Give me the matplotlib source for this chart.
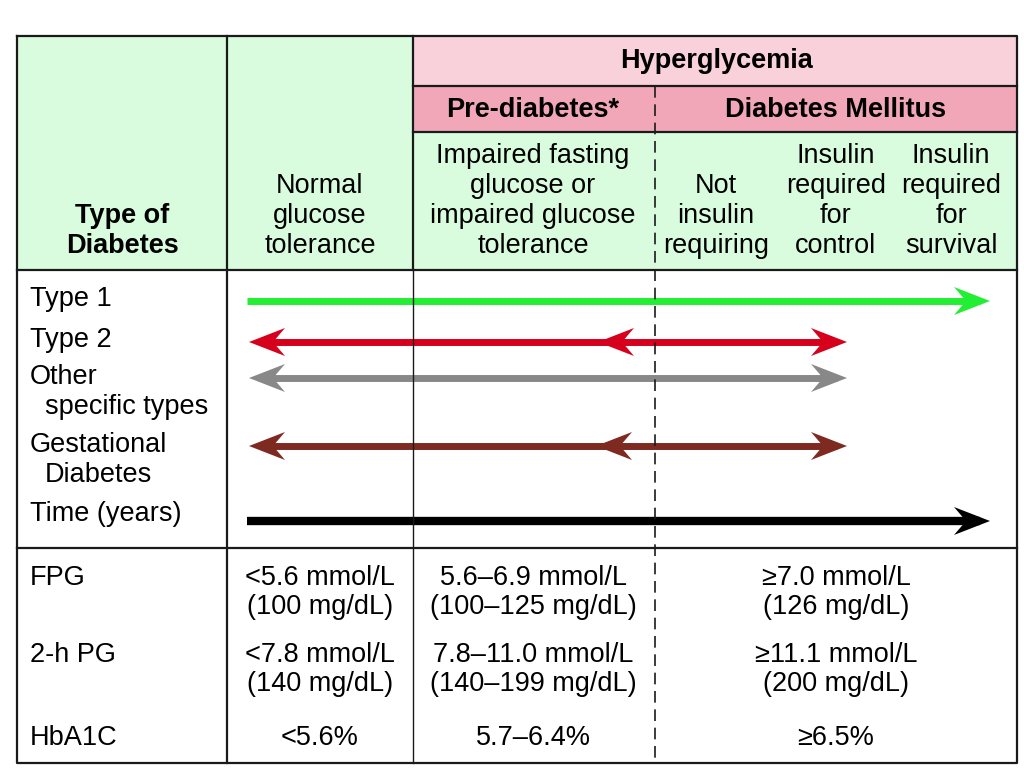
import numpy as np
import matplotlib.pyplot as plt
from matplotlib.patches import Rectangle, Polygon

plt.rcParams['font.family'] = ['Liberation Sans', 'DejaVu Sans']

# Table text
header_cols = [
    (122, ['Type of', 'Diabetes'], 'bold'),
    (320, ['Normal', 'glucose', 'tolerance'], 'normal'),
    (533, ['Impaired fasting', 'glucose or', 'impaired glucose', 'tolerance'], 'normal'),
    (716, ['Not', 'insulin', 'requiring'], 'normal'),
    (836, ['Insulin', 'required', 'for', 'control'], 'normal'),
    (951, ['Insulin', 'required', 'for', 'survival'], 'normal'),
]
band_labels = [(716, 61, 'Hyperglycemia'), (533, 110, 'Pre-diabetes*'), (836, 110, 'Diabetes Mellitus')]

type_labels = [(30, 299, 'Type 1'), (30, 340, 'Type 2'), (30, 377, 'Other'),
               (45, 407, 'specific types'), (30, 445, 'Gestational'),
               (45, 475, 'Diabetes'), (30, 514, 'Time (years)')]

# arrows: y, start, end, colour, heads (tips, direction)
arrow_y = [301, 342, 378, 446, 521]
arrow_x0 = [247, 249, 249, 249, 247]
arrow_x1 = [990, 847, 847, 847, 990]
arrow_col = ['#22ee33', '#d6001c', '#888888', '#7e2a20', '#000000']
arrow_lw = [5.0, 5.0, 5.0, 5.0, 6.0]
arrow_heads = [[(990, 1)], [(249, -1), (598, -1), (847, 1)], [(249, -1), (847, 1)],
               [(249, -1), (596, -1), (847, 1)], [(990, 1)]]

test_names = ['FPG', '2-h PG', 'HbA1C']
test_y = [578, 655, 738]
normal_vals = [['<5.6 mmol/L', '(100 mg/dL)'], ['<7.8 mmol/L', '(140 mg/dL)'], ['<5.6%']]
pre_vals = [['5.6\u20136.9 mmol/L', '(100\u2013125 mg/dL)'], ['7.8\u201311.0 mmol/L', '(140\u2013199 mg/dL)'], ['5.7\u20136.4%']]
dm_vals = [['\u22657.0 mmol/L', '(126 mg/dL)'], ['\u226511.1 mmol/L', '(200 mg/dL)'], ['\u22656.5%']]

GREEN = '#d8fcdd'
PINK1 = '#f8d1db'
PINK2 = '#f2a7b9'
FS = 19.5
LINE = 30


def barb_head(ax, tip, y, direction, color, length=36, half=14, notch=24):
    back = tip - direction * length
    mid = tip - direction * notch
    pts = [(tip, y), (back, y - half), (mid, y), (back, y + half)]
    ax.add_patch(Polygon(pts, closed=True, color=color, lw=0, zorder=3))


fig = plt.figure(figsize=(10.24, 7.84), dpi=100)
ax = fig.add_axes([0, 0, 1, 1])
ax.set_xlim(0, 1024)
ax.set_ylim(784, 0)
ax.axis('off')

L, R, T, B = 17, 1017, 36, 763
c1, c2, cd = 227, 413, 655

# fills
ax.add_patch(Rectangle((L, T), c2 - L, 270 - T, color=GREEN, lw=0))
ax.add_patch(Rectangle((c2, T), R - c2, 86 - T, color=PINK1, lw=0))
ax.add_patch(Rectangle((c2, 86), R - c2, 132 - 86, color=PINK2, lw=0))
ax.add_patch(Rectangle((c2, 132), R - c2, 270 - 132, color=GREEN, lw=0))

# grid lines
k = dict(color='#1a1a1a', lw=1.6, zorder=4)
ax.plot([L, R, R, L, L], [T, T, B, B, T], **k)
ax.plot([c1, c1], [T, B], **k)
ax.plot([c2, c2], [T, 270], **k)
ax.plot([c2, c2], [270, B], color='#1a1a1a', lw=1.0, zorder=4)
ax.plot([c2, R], [86, 86], **k)
ax.plot([c2, R], [132, 132], **k)
ax.plot([L, R], [270, 270], **k)
ax.plot([L, R], [548, 548], **k)
ax.plot([cd, cd], [86, B], color='#1a1a1a', lw=1.2, ls=(0, (7, 4)), zorder=4)

# header text (bottom-aligned to last line at y=246)
for x, lines, w in header_cols:
    n = len(lines)
    for i, s in enumerate(lines):
        ax.text(x, 246 - (n - 1 - i) * LINE, s, ha='center', va='center',
                fontsize=FS, fontweight=w)
for x, y, s in band_labels:
    ax.text(x, y, s, ha='center', va='center', fontsize=FS, fontweight='bold')

for x, y, s in type_labels:
    ax.text(x, y, s, ha='left', va='center', fontsize=FS)

# arrows
for y, x0, x1, col, lw, heads in zip(arrow_y, arrow_x0, arrow_x1, arrow_col, arrow_lw, arrow_heads):
    tips = [t for t, _ in heads]
    s0 = x0 + 10 if x0 in tips else x0
    s1 = x1 - 10 if x1 in tips else x1
    ax.plot([s0, s1], [y, y], color=col, lw=lw, solid_capstyle='butt', zorder=2)
    for tip, d in heads:
        barb_head(ax, tip, y, d, col)

# criteria rows
for name, y, a, b, c in zip(test_names, test_y, normal_vals, pre_vals, dm_vals):
    ax.text(30, y, name, ha='left', va='center', fontsize=FS)
    for x, vals in ((320, a), (533, b), (836, c)):
        for i, s in enumerate(vals):
            ax.text(x, y + i * 29, s, ha='center', va='center', fontsize=FS)

fig.savefig('out.png', dpi=100)
